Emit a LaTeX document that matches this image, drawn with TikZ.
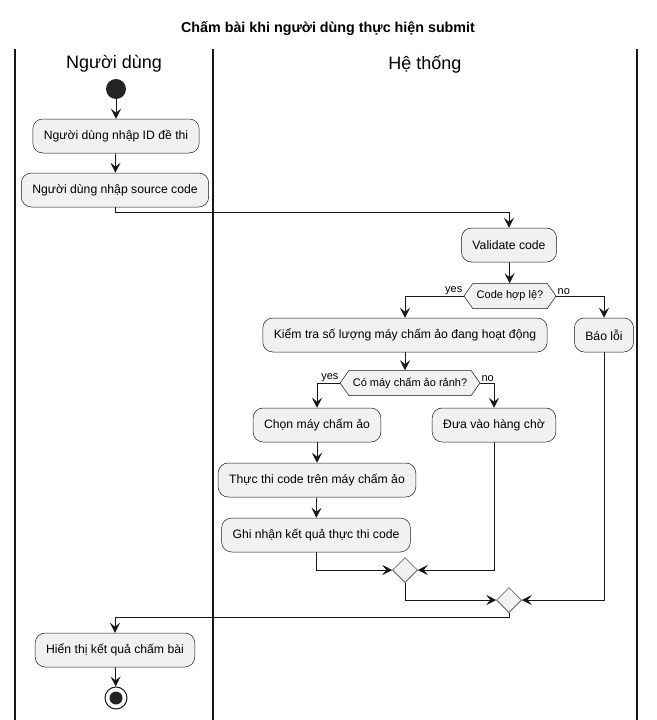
\documentclass[tikz,border=0pt]{standalone}
\usepackage{fontspec}
\setmainfont{Liberation Sans}
\usetikzlibrary{arrows.meta,shapes.geometric,shapes.symbols}
\definecolor{umlline}{HTML}{181818}
\definecolor{umlfill}{HTML}{F1F1F1}
\begin{document}
\begin{tikzpicture}[x=1pt, y=-1pt,
    act/.style={draw=umlline, fill=umlfill, line width=0.5pt, rounded corners=10pt, minimum height=34pt, inner xsep=11pt, font=\fontsize{12.2}{14}\selectfont},
    cond/.style={draw=umlline, fill=umlfill, line width=0.5pt, signal, signal to=east and west, signal pointer angle=110, minimum height=25pt, inner xsep=4pt, inner ysep=2pt, font=\fontsize{11}{13}\selectfont},
    merge/.style={draw=umlline, fill=umlfill, line width=0.5pt, diamond, minimum size=25pt, inner sep=0pt},
    flow/.style={draw=umlline, line width=0.8pt, -{Stealth[length=10pt, width=10pt, inset=4pt]}},
    lbl/.style={font=\fontsize{11}{13}\selectfont, inner sep=1pt}]
            \useasboundingbox (0,0) rectangle (656,720);
            %title and lanes
            \node (T) at (328,29) {\fontsize{14.3}{16}\selectfont\bfseries Chấm bài khi người dùng thực hiện submit};
            \node (L1) at (114,64) {\fontsize{18}{21}\selectfont Người dùng};
            \node (L2) at (425,64) {\fontsize{18}{21}\selectfont Hệ thống};
            \draw[line width=1.1pt, umlline] (15,49) -- (15,720) (213,49) -- (213,720) (637,49) -- (637,720);

            %boxes
            \node (S) at (116,89) [circle, fill=umlline!95, minimum size=20pt, inner sep=0pt] {};
            \node (U1) at (116,136) [act] {Người dùng nhập ID đề thi};
            \node (U2) at (115,190) [act] {Người dùng nhập source code};
            \node (V) at (509,245) [act] {Validate code};
            \node (C1) at (510,296) [cond] {Code hợp lệ?};
            \node (K) at (405,335) [act] {Kiểm tra số lượng máy chấm ảo đang hoạt động};
            \node (B) at (604,335) [act] {Báo lỗi};
            \node (C2) at (410,383) [cond] {Có máy chấm ảo rảnh?};
            \node (P) at (317,425) [act] {Chọn máy chấm ảo};
            \node (Q) at (494,425) [act] {Đưa vào hàng chờ};
            \node (X) at (317,480) [act] {Thực thi code trên máy chấm ảo};
            \node (G) at (316,535) [act] {Ghi nhận kết quả thực thi code};
            \node (M1) at (405,570) [merge] {};
            \node (M2) at (509,600) [merge] {};
            \node (R) at (115,650) [act] {Hiển thị kết quả chấm bài};
            \node (E) at (116,698) [circle, draw=umlline, line width=1pt, minimum size=22pt, inner sep=0pt,
                path picture={\fill[umlline!95] (path picture bounding box.center) circle (6.5pt);}] {};

            %arrows
            \draw[flow] (S) -- (U1);
            \draw[flow] (U1) -- (U2);
            \draw[flow] (U2.south) -- ++(0,5) -| (V.north);
            \draw[flow] (V) -- (C1);
            \draw[flow] (C1.west) node[lbl, anchor=south east] {yes} -| (K.north);
            \draw[flow] (C1.east) node[lbl, anchor=south west] {no} -| (B.north);
            \draw[flow] (K.south) -- (K.south |- C2.north);
            \draw[flow] (C2.west) node[lbl, anchor=south east] {yes} -| (P.north);
            \draw[flow] (C2.east) node[lbl, anchor=south west] {no} -| (Q.north);
            \draw[flow] (P) -- (X);
            \draw[flow] (X) -- (G);
            \draw[flow] (G.south) |- (M1.west);
            \draw[flow] (Q.south) |- (M1.east);
            \draw[flow] (M1.south) |- (M2.west);
            \draw[flow] (B.south) |- (M2.east);
            \draw[flow] (M2.south) -- ++(0,5) -| (R.north);
            \draw[flow] (R) -- (E);

    \end{tikzpicture}
\end{document}
